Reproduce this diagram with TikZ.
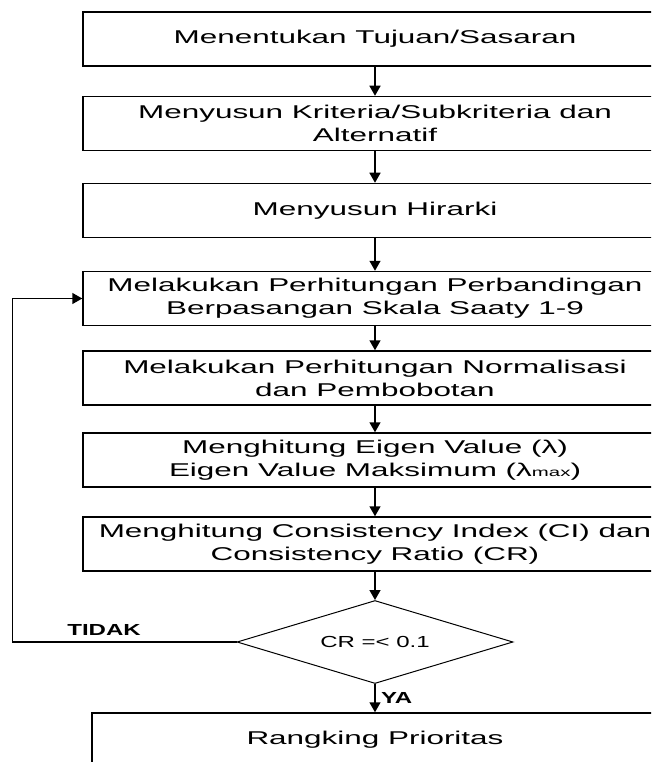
\documentclass[tikz,border=0pt]{standalone}
\usepackage{fontspec}
\setmainfont{Liberation Sans}
\usepackage{graphicx}
\usetikzlibrary{shapes.geometric,arrows.meta}
\newcommand{\lebar}[1]{\scalebox{1.7}[1]{#1}}
\newcommand{\lebarb}[1]{\scalebox{1.5}[1]{#1}}

\begin{document}
\begin{tikzpicture}[>={Triangle[length=10pt,width=11pt]}, x=1pt, y=-1pt,
    kotak/.style={draw, line width=1.5pt, minimum width=584pt, minimum height=54pt,
      inner xsep=0pt, align=center, font=\fontsize{18.5}{23}\selectfont},
    panah/.style={->, line width=1.5pt},
    ket/.style={font=\fontsize{16}{18}\selectfont\bfseries}]
            % Frame of the picture
            \useasboundingbox (0,0) rectangle (651,762);
            \clip (0,0) rectangle (651,762);

            % Steps (all with kotak)
            \node[kotak] (tujuan) at (375,39) {\lebar{Menentukan Tujuan/Sasaran}};
            \node[kotak] (kriteria) at (375,123.5) {\lebar{Menyusun Kriteria/Subkriteria dan}\\\lebar{Alternatif}};
            \node[kotak] (hirarki) at (375,210.5) {\lebar{Menyusun Hirarki}};
            \node[kotak] (banding) at (375,298.5) {\lebar{Melakukan Perhitungan Perbandingan}\\\lebar{Berpasangan Skala Saaty 1-9}};
            \node[kotak] (normal) at (375,378) {\lebar{Melakukan Perhitungan Normalisasi}\\\lebar{dan Pembobotan}};
            \node[kotak] (eigen) at (375,460) {\lebar{Menghitung Eigen Value (λ)}\\\lebar{Eigen Value Maksimum (λ{\fontsize{12}{12}\selectfont max})}};
            \node[kotak] (konsist) at (375,544) {\lebar{Menghitung Consistency Index (CI) dan}\\\lebar{Consistency Ratio (CR)}};
            \node[draw, diamond, aspect=3.3, minimum width=276pt, minimum height=83pt, inner sep=0pt,
              line width=1pt, font=\fontsize{16}{18}\selectfont] (cek) at (375,642) {\lebarb{CR =< 0.1}};
            \node[kotak, minimum width=566pt] (ranking) at (375,740) {\lebar{Rangking Prioritas}};

            % Arrows between steps
            \draw[panah] (tujuan) -- (kriteria);
            \draw[panah] (kriteria) -- (hirarki);
            \draw[panah] (hirarki) -- (banding);
            \draw[panah] (banding) -- (normal);
            \draw[panah] (normal) -- (eigen);
            \draw[panah] (eigen) -- (konsist);
            \draw[panah] (konsist) -- (cek);
            \draw[panah] (cek) -- node[ket, right, xshift=2pt] {\lebarb{YA}} (ranking);

            % Loop back (TIDAK)
            \coordinate (belok) at (12.5,642);
            \draw[panah] (cek.west) -- (belok) |- (banding.west);
            \node[ket] (tidak) at (104,630) {\lebarb{TIDAK}};
        \end{tikzpicture}
\end{document}
